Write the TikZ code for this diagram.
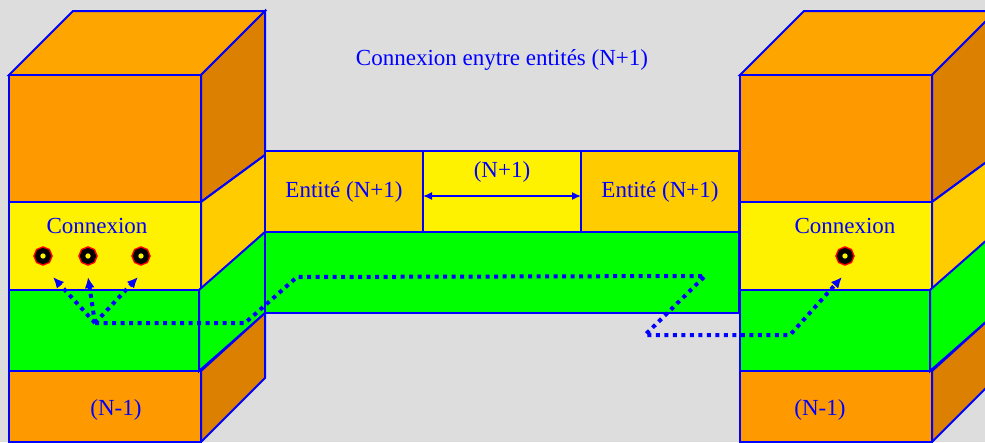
\documentclass[tikz,border=0pt]{standalone}
\usepackage{fontspec}
\setmainfont{Liberation Serif}
\usetikzlibrary{positioning,arrows.meta}

\definecolor{fond}{HTML}{DDDDDD}
\definecolor{orangeclair}{HTML}{FFA500}
\definecolor{orangeface}{HTML}{FF9900}
\definecolor{orangecote}{HTML}{DB8000}
\definecolor{jaunecote}{HTML}{FFCC00}
\definecolor{vertvif}{HTML}{00FF00}

\tikzset{
  face/.style={draw=blue, line width=2pt, line join=miter},
  texte/.style={text=blue, font=\fontsize{23}{27}\selectfont, inner sep=0pt},
  entite/.style={face, texte, fill=jaunecote, minimum width=158pt, minimum height=81pt, outer sep=0pt},
  trou/.style={circle, draw=black, line width=5pt, fill=yellow, minimum size=11pt, inner sep=0pt, preaction={draw=red, line width=8pt}},
  chemin/.style={draw=blue, line width=4pt, dash pattern=on 4pt off 4.5pt},
  pointe/.style={-{Latex[length=11pt,width=10pt]}},
}

\begin{document}
\begin{tikzpicture}[x=1pt, y=-1pt]

    % Fond gris et cadre de l'image (le bloc de droite est coupé au bord)
    \useasboundingbox (0,0) rectangle (985,442);
    \fill[fond] (0,0) rectangle (985,442);
    \clip (0,0) rectangle (985,442);

    % Les deux systèmes ouverts : un pavé en 3D par côté
    % \cx et \nx placent les textes "Connexion" et "(N-1)" sur la face avant
    \foreach \dx/\cx/\nx/\nom in {0/97/116/g, 731/114/89/d} {
        \begin{scope}[xshift=\dx pt]

            % Face du dessus
            \filldraw[face, fill=orangeclair] (9,75) -- (73,11) -- (265,11) -- (201,75) -- cycle;

            % Bandes de la face avant
            \filldraw[face, fill=orangeface] (9,75) rectangle (201,202);
            \filldraw[face, fill=yellow] (9,202) rectangle (201,290);
            \filldraw[face, fill=vertvif] (9,290) rectangle (199,371);
            \filldraw[face, fill=orangeface] (9,371) rectangle (201,442);

            % Bandes de la face de côté
            \filldraw[face, fill=orangecote] (201,75) -- (265,11) -- (265,155) -- (201,202) -- cycle;
            \filldraw[face, fill=jaunecote] (201,202) -- (265,155) -- (265,232) -- (201,290) -- cycle;
            \filldraw[face, fill=vertvif] (199,290) -- (265,232) -- (265,313) -- (199,371) -- cycle;
            \filldraw[face, fill=orangecote] (201,371) -- (265,313) -- (265,378) -- (201,442) -- cycle;

            % Textes de la face avant
            \node[texte] (conn\nom) at (\cx,226) {Connexion};
            \node[texte] (bas\nom) at (\nx,410) {(N-1)};

        \end{scope}
    }

    % Bloc du milieu : les deux entités (N+1) et le lien entre elles
    \node[entite] (e1) at (344,191.5) {Entité (N+1)};
    \node[entite, fill=yellow] (lien) [right=0pt of e1] {};
    \node[entite] (e2) [right=0pt of lien] {Entité (N+1)};
    \node[entite, fill=vertvif, minimum width=474pt] (vert) [below=0pt of lien] {};

    \node[texte] (nn) at ([yshift=19.5pt]lien.center) {(N+1)};
    \draw[blue, line width=1.5pt, {Latex[length=9pt,width=8pt]}-{Latex[length=9pt,width=8pt]}]
        ([yshift=-4.5pt]lien.west) -- ([yshift=-4.5pt]lien.east);

    % Titre
    \node[texte] (titre) at (502,60) {Connexion enytre entités (N+1)};

    % Points de connexion
    \node[trou] (c1) at (43,256) {};
    \node[trou] (c2) at (88,256) {};
    \node[trou] (c3) at (141,256) {};
    \node[trou] (c4) at (845,256) {};

    % Extrémités des flèches, juste sous les points de connexion
    \coordinate (f1) at ([shift={(10,21)}]c1.center);
    \coordinate (f2) at ([shift={(0,21)}]c2.center);
    \coordinate (f3) at ([shift={(-3,21)}]c3.center);
    \coordinate (f4) at ([shift={(-3,21)}]c4.center);

    % Coudes du chemin pointillé
    \coordinate (k1) at (95,323);
    \coordinate (k2) at (245,323);
    \coordinate (k3) at (297,277);
    \coordinate (k4) at (705,276);
    \coordinate (k5) at (645,335);
    \coordinate (k6) at (790,335);

    % Chemin de la connexion d'un bout à l'autre
    \draw[chemin, pointe] (k1) -- (k2) -- (k3) -- (k4) -- (k5) -- (k6) -- (f4);
    \foreach \i in {1,2,3}
        \draw[chemin, pointe] (k1) -- (f\i);

\end{tikzpicture}
\end{document}
